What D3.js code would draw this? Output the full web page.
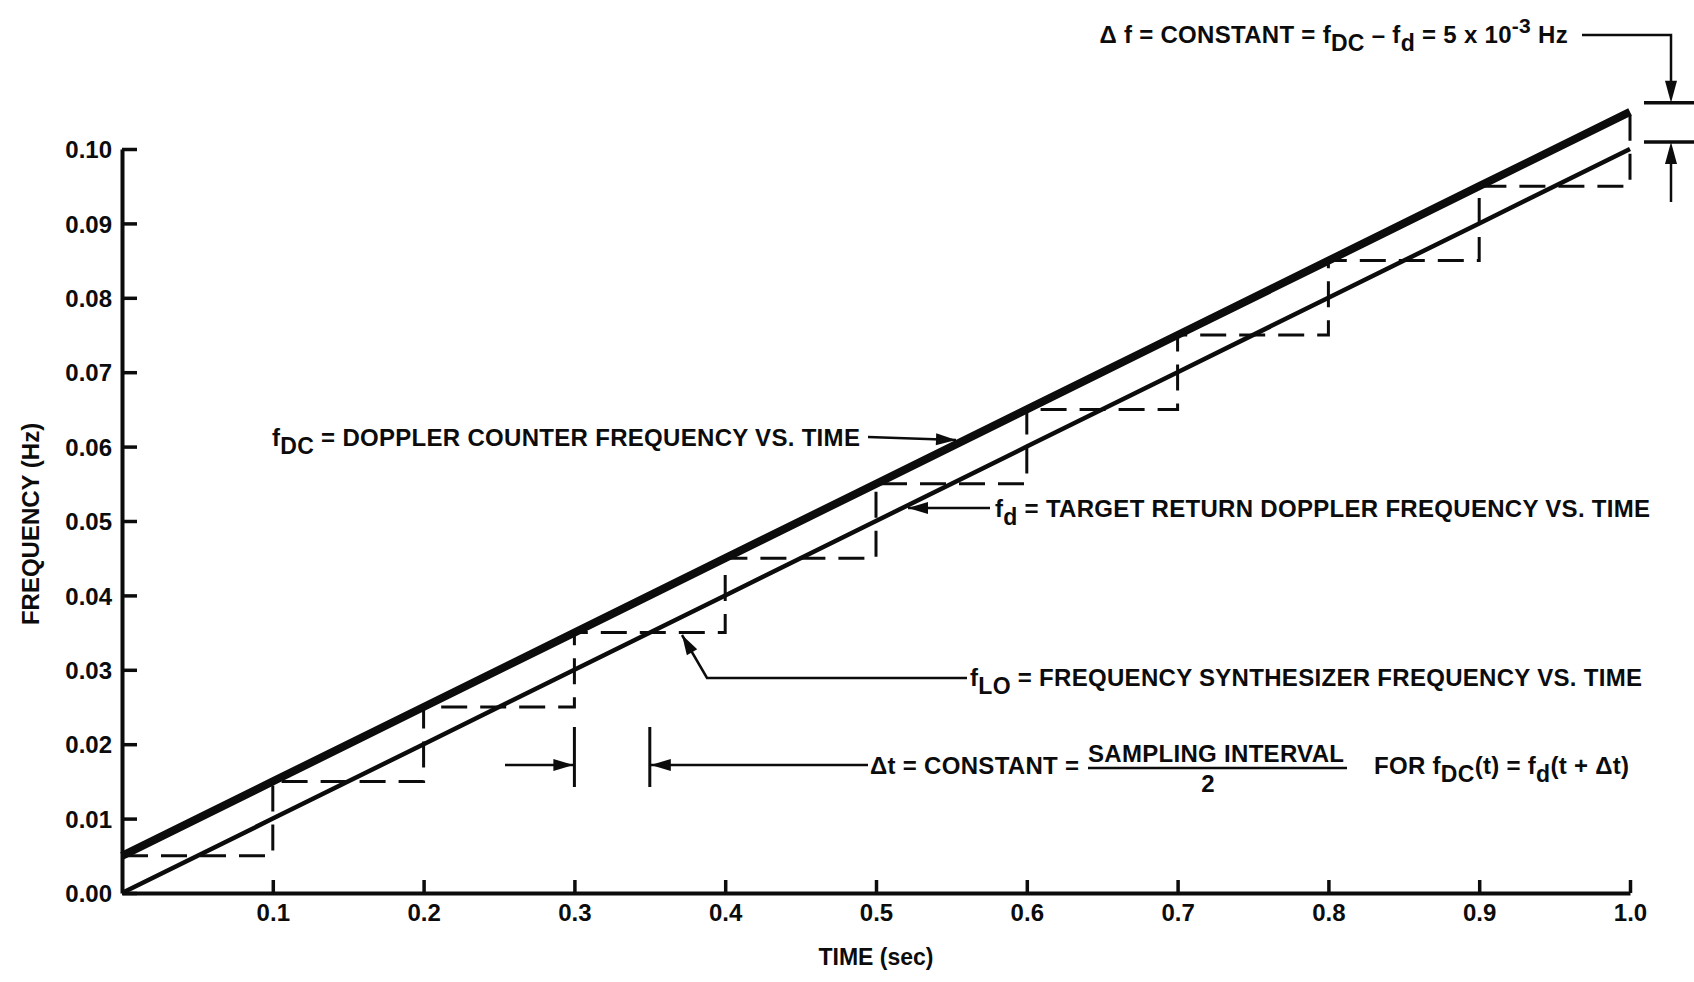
<!DOCTYPE html>
<html><head><meta charset="utf-8">
<script src="https://cdn.jsdelivr.net/npm/d3@7"></script>
<style>
body{margin:0;background:#fff;}
svg text{font-family:"Liberation Sans",Arial,sans-serif;font-weight:bold;fill:#0c0c0c;}
.ann{font-size:24px;letter-spacing:0.3px;}
.tick text{font-size:24px;}
.atitle{font-size:23px;}
.ytitle{font-size:24px;}
</style></head><body>
<svg id="c" width="1694" height="982"></svg>
<script>
// ---- data ----
const times = [0, 0.1, 0.2, 0.3, 0.4, 0.5, 0.6, 0.7, 0.8, 0.9, 1.0];
const fDC   = [0.005, 0.015, 0.025, 0.035, 0.045, 0.055, 0.065, 0.075, 0.085, 0.095, 0.105]; // doppler counter
const fD    = [0.000, 0.010, 0.020, 0.030, 0.040, 0.050, 0.060, 0.070, 0.080, 0.090, 0.100]; // target return
const fLO   = [0.005, 0.015, 0.025, 0.035, 0.045, 0.055, 0.065, 0.075, 0.085, 0.095, 0.105]; // synthesizer (held)
const yTicks = [0, 0.01, 0.02, 0.03, 0.04, 0.05, 0.06, 0.07, 0.08, 0.09, 0.10];
const xTicks = [0.1, 0.2, 0.3, 0.4, 0.5, 0.6, 0.7, 0.8, 0.9, 1.0];
const dtStart = 0.3, dtEnd = 0.35;

const svg = d3.select('#c');
const x = d3.scaleLinear([0, 1], [122, 1630]);
const y = d3.scaleLinear([0, 0.1], [893, 149]);
const ink = '#0c0c0c';

// staircase f_LO
svg.append('path')
  .attr('d', d3.line().curve(d3.curveStepAfter).x((d,i)=>x(times[i])).y(d=>y(d))(fLO))
  .attr('fill','none').attr('stroke',ink).attr('stroke-width',3)
  .attr('stroke-dasharray','26,13');

// f_d thin line
svg.append('path')
  .attr('d', d3.line().x((d,i)=>x(times[i])).y(d=>y(d))(fD))
  .attr('fill','none').attr('stroke',ink).attr('stroke-width',4.5);

// f_DC thick line
svg.append('path')
  .attr('d', d3.line().x((d,i)=>x(times[i])).y(d=>y(d))(fDC))
  .attr('fill','none').attr('stroke',ink).attr('stroke-width',8);

// axes
const gx = svg.append('g').attr('transform',`translate(0,${y(0)})`)
  .call(d3.axisBottom(x).tickValues(xTicks).tickFormat(d3.format('.1f'))
        .tickSizeInner(-13).tickSizeOuter(0).tickPadding(11));
const gy = svg.append('g').attr('transform',`translate(${x(0)},0)`)
  .call(d3.axisLeft(y).tickValues(yTicks).tickFormat(d3.format('.2f'))
        .tickSizeInner(-15).tickSizeOuter(0).tickPadding(10));
[gx,gy].forEach(g=>{
  g.attr('font-size',null).attr('font-family',null);
  g.select('.domain').attr('stroke',ink).attr('stroke-width',4);
  g.selectAll('.tick line').attr('stroke',ink).attr('stroke-width',3.5);
  g.selectAll('.tick text').attr('fill',ink);
});
gy.selectAll('.tick text').attr('dy','0.36em');

// axis titles
svg.append('text').attr('class','ytitle')
  .attr('transform','translate(39,524) rotate(-90)').attr('text-anchor','middle')
  .text('FREQUENCY (Hz)');
svg.append('text').attr('class','atitle').attr('x',876).attr('y',965)
  .attr('text-anchor','middle').text('TIME (sec)');

// helpers
function rich(xp, yb, parts, anchor){
  const t = svg.append('text').attr('class','ann').attr('x',xp).attr('y',yb)
    .attr('text-anchor',anchor||'start');
  let shift = 0;
  parts.forEach(p=>{
    const target = p.sub ? 8 : (p.sup ? -10 : 0);
    const ts = t.append('tspan').text(p.t).attr('dy', target - shift);
    if(p.sub||p.sup) ts.attr('font-size', p.sup ? '21px' : '23px');
    shift = target;
  });
  return t;
}
function head(tx,ty,fx,fy,len,hw){
  len = len||20; hw = hw||6;
  const a = Math.atan2(ty-fy, tx-fx);
  const bx = tx - len*Math.cos(a), by = ty - len*Math.sin(a);
  const px = -Math.sin(a)*hw, py = Math.cos(a)*hw;
  svg.append('path').attr('d',`M${tx},${ty}L${bx+px},${by+py}L${bx-px},${by-py}Z`).attr('fill',ink);
}
function arrow(pts, sw){
  svg.append('path').attr('d', d3.line()(pts)).attr('fill','none')
    .attr('stroke',ink).attr('stroke-width',sw||2.5);
  const n = pts.length;
  head(pts[n-1][0],pts[n-1][1],pts[n-2][0],pts[n-2][1]);
}

// f_DC label
rich(272, 446, [{t:'f'},{t:'DC',sub:true},{t:' = DOPPLER COUNTER FREQUENCY VS. TIME'}]);
arrow([[868,437],[956,440]]);

// f_d label
rich(995, 517, [{t:'f'},{t:'d',sub:true},{t:' = TARGET RETURN DOPPLER FREQUENCY VS. TIME'}]);
arrow([[990,508],[908,508]]);

// f_LO label
rich(970, 686, [{t:'f'},{t:'LO',sub:true},{t:' = FREQUENCY SYNTHESIZER FREQUENCY VS. TIME'}]);
arrow([[967,678],[707,678],[682,635]]);

// delta t annotation
[dtStart, dtEnd].forEach(v=>{
  svg.append('line').attr('x1',x(v)).attr('x2',x(v)).attr('y1',727).attr('y2',787)
    .attr('stroke',ink).attr('stroke-width',3);
});
arrow([[505,765],[x(dtStart)-1,765]]);
arrow([[868,765],[x(dtEnd)+1,765]]);
rich(870, 774, [{t:'Δt = CONSTANT ='}]);
svg.append('text').attr('class','ann').attr('x',1088).attr('y',762).text('SAMPLING INTERVAL');
svg.append('line').attr('x1',1088).attr('x2',1347).attr('y1',768).attr('y2',768)
  .attr('stroke',ink).attr('stroke-width',2.5);
svg.append('text').attr('class','ann').attr('x',1208).attr('y',792).attr('text-anchor','middle').text('2');
rich(1374, 774, [{t:'FOR f'},{t:'DC',sub:true},{t:'(t) = f'},{t:'d',sub:true},{t:'(t +  Δt)'}]);

// delta f annotation
rich(1568, 43, [{t:'Δ f = CONSTANT = f'},{t:'DC',sub:true},{t:' – f'},{t:'d',sub:true},{t:' = 5 x 10'},{t:'-3',sup:true},{t:' Hz'}], 'end');
const topBar = y(fDC[fDC.length-1]) - 9, botBar = y(fD[fD.length-1]) - 7;
svg.append('path').attr('d',`M1582,35H1671V${topBar-18}`).attr('fill','none').attr('stroke',ink).attr('stroke-width',2.5);
head(1671, topBar, 1671, 35, 22, 6);
svg.append('path').attr('d',`M1671,202V${botBar+18}`).attr('fill','none').attr('stroke',ink).attr('stroke-width',2.5);
head(1671, botBar, 1671, 202, 22, 6);
[topBar, botBar].forEach(b=>{
  svg.append('line').attr('x1',1644).attr('x2',1694).attr('y1',b).attr('y2',b)
    .attr('stroke',ink).attr('stroke-width',3.5);
});
</script>
</body></html>
